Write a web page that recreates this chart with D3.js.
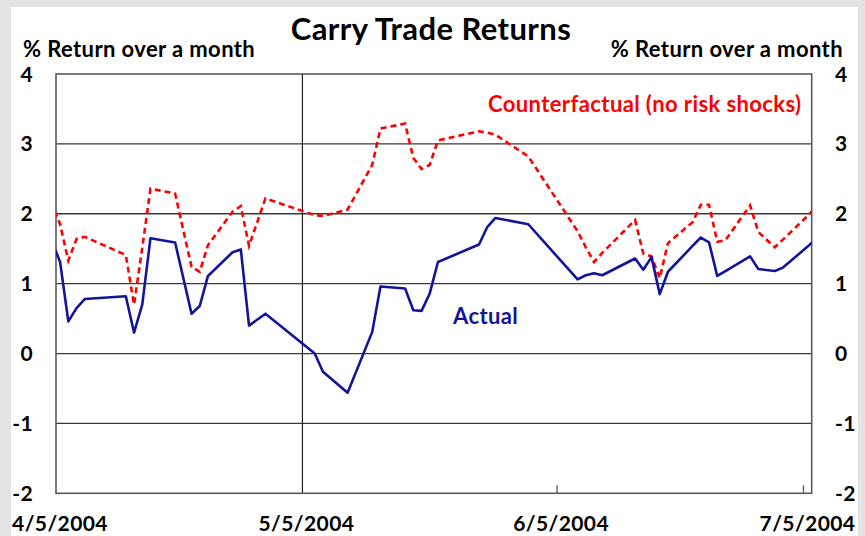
<!DOCTYPE html>
<html>
<head>
<meta charset="utf-8">
<script src="https://cdn.jsdelivr.net/npm/d3@7"></script>
<style>
  body { margin: 0; background: #e3e3e3; }
  svg text { font-family: Lato, "Open Sans", sans-serif; font-weight: bold; letter-spacing: 0.4px; }
</style>
</head>
<body>
<div id="chart"></div>
<script>
// trading days (first and last points run past the plot edge and get clipped)
const dates = ["2004-04-02","2004-04-05","2004-04-06","2004-04-07","2004-04-08","2004-04-13","2004-04-14",
  "2004-04-15","2004-04-16","2004-04-19","2004-04-21","2004-04-22","2004-04-23","2004-04-26","2004-04-27",
  "2004-04-28","2004-04-30","2004-05-06","2004-05-07","2004-05-10","2004-05-13","2004-05-14","2004-05-17",
  "2004-05-18","2004-05-19","2004-05-20","2004-05-21","2004-05-26","2004-05-27","2004-05-28","2004-06-01",
  "2004-06-07","2004-06-08","2004-06-09","2004-06-10","2004-06-14","2004-06-15","2004-06-16","2004-06-17",
  "2004-06-18","2004-06-21","2004-06-22","2004-06-23","2004-06-24","2004-06-25","2004-06-28","2004-06-29",
  "2004-07-01","2004-07-02","2004-07-05","2004-07-06"];

const actual = [2.2, 1.31, 0.46, 0.65, 0.78, 0.82, 0.30,
  0.70, 1.65, 1.59, 0.57, 0.68, 1.11, 1.45, 1.49,
  0.40, 0.57, 0.00, -0.26, -0.56, 0.31, 0.96, 0.93,
  0.62, 0.61, 0.86, 1.31, 1.56, 1.81, 1.94, 1.85,
  1.06, 1.12, 1.15, 1.12, 1.36, 1.20, 1.38, 0.85,
  1.17, 1.54, 1.66, 1.59, 1.11, 1.18, 1.39, 1.21,
  1.18, 1.23, 1.53, 1.64];

const counterfactual = [2.7, 1.85, 1.33, 1.64, 1.67, 1.41, 0.70,
  1.51, 2.36, 2.29, 1.24, 1.17, 1.55, 2.03, 2.11,
  1.54, 2.22, 1.98, 1.97, 2.06, 2.70, 3.22, 3.29,
  2.80, 2.64, 2.70, 3.05, 3.18, 3.16, 3.13, 2.82,
  1.75, 1.52, 1.31, 1.44, 1.91, 1.43, 1.39, 1.08,
  1.58, 1.88, 2.13, 2.13, 1.60, 1.62, 2.12, 1.74,
  1.52, 1.63, 1.97, 2.09];

const yTicks = [-2, -1, 0, 1, 2, 3, 4];
const xTicks = ["2004-04-05", "2004-05-05", "2004-06-05", "2004-07-05"];

const width = 865, height = 536;
const margin = {top: 74, right: 53.3, bottom: 42.7, left: 56};

const parse = d3.timeParse("%Y-%m-%d");
const fmt = d3.timeFormat("%-m/%-d/%Y");

const svg = d3.select("#chart")
  .append("svg")
  .attr("width", width)
  .attr("height", height);

// white panel over the grey page
svg.append("rect")
  .attr("x", 11).attr("y", 7)
  .attr("width", 847).attr("height", height - 7)
  .attr("fill", "#fff");

const x = d3.scaleTime()
  .domain([parse("2004-04-05"), parse("2004-07-06")])
  .range([margin.left, width - margin.right]);

const y = d3.scaleLinear()
  .domain([-2, 4])
  .range([height - margin.bottom, margin.top]);

// points sit in the middle of their day
const pts = dates.map((d, i) => ({
  date: d3.timeHour.offset(parse(d), 12),
  a: actual[i],
  c: counterfactual[i]
}));

svg.append("clipPath").attr("id", "clip")
  .append("rect")
  .attr("x", margin.left).attr("y", margin.top)
  .attr("width", x.range()[1] - margin.left)
  .attr("height", y.range()[0] - margin.top);

// horizontal gridlines
svg.append("g")
  .selectAll("line")
  .data(yTicks.filter(v => v > -2 && v < 4))
  .join("line")
  .attr("x1", margin.left).attr("x2", x.range()[1])
  .attr("y1", d => y(d)).attr("y2", d => y(d))
  .attr("stroke", "#3a3a3a")
  .attr("stroke-width", 1.3);

// the one vertical line at 5/5
svg.append("line")
  .attr("x1", x(parse("2004-05-05"))).attr("x2", x(parse("2004-05-05")))
  .attr("y1", margin.top).attr("y2", y.range()[0])
  .attr("stroke", "#222")
  .attr("stroke-width", 1.2);

// inner ticks on bottom
svg.append("g")
  .selectAll("line")
  .data(xTicks.slice(2))
  .join("line")
  .attr("x1", d => x(parse(d))).attr("x2", d => x(parse(d)))
  .attr("y1", y.range()[0]).attr("y2", y.range()[0] - 8)
  .attr("stroke", "#555")
  .attr("stroke-width", 1.3);

// plot border
svg.append("rect")
  .attr("x", margin.left).attr("y", margin.top)
  .attr("width", x.range()[1] - margin.left)
  .attr("height", y.range()[0] - margin.top)
  .attr("fill", "none")
  .attr("stroke", "#5a5a5a")
  .attr("stroke-width", 1.6);

const lineA = d3.line().x(d => x(d.date)).y(d => y(d.a));
const lineC = d3.line().x(d => x(d.date)).y(d => y(d.c));

const plot = svg.append("g").attr("clip-path", "url(#clip)");

plot.append("path")
  .datum(pts)
  .attr("d", lineC)
  .attr("fill", "none")
  .attr("stroke", "#ff0000")
  .attr("stroke-width", 2.6)
  .attr("stroke-dasharray", "6,4");

plot.append("path")
  .datum(pts)
  .attr("d", lineA)
  .attr("fill", "none")
  .attr("stroke", "#14149a")
  .attr("stroke-width", 2.6)
  .attr("stroke-linejoin", "round");

// y labels, left and right
svg.append("g")
  .selectAll("text")
  .data(yTicks)
  .join("text")
  .attr("x", 33)
  .attr("y", d => y(d))
  .attr("dy", "0.36em")
  .attr("text-anchor", "end")
  .attr("font-size", 21)
  .text(d => d);

svg.append("g")
  .selectAll("text")
  .data(yTicks)
  .join("text")
  .attr("x", 835)
  .attr("y", d => y(d))
  .attr("dy", "0.36em")
  .attr("text-anchor", "start")
  .attr("font-size", 21)
  .text(d => d);

// x labels
svg.append("g")
  .selectAll("text")
  .data(xTicks)
  .join("text")
  .attr("x", d => x(parse(d)) + 4)
  .attr("y", 531)
  .attr("text-anchor", "middle")
  .attr("font-size", 21)
  .text(d => fmt(parse(d)));

// titles
svg.append("text")
  .attr("x", 431).attr("y", 40)
  .attr("text-anchor", "middle")
  .attr("font-size", 31)
  .text("Carry Trade Returns");

svg.append("text")
  .attr("x", 23).attr("y", 57)
  .attr("font-size", 22)
  .text("% Return over a month");

svg.append("text")
  .attr("x", 843).attr("y", 57)
  .attr("text-anchor", "end")
  .attr("font-size", 22)
  .text("% Return over a month");

// series labels
svg.append("text")
  .attr("x", 488).attr("y", 112)
  .attr("fill", "#ff0000")
  .attr("font-size", 22)
  .text("Counterfactual (no risk shocks)");

svg.append("text")
  .attr("x", 453).attr("y", 324)
  .attr("fill", "#14149a")
  .attr("font-size", 22)
  .text("Actual");
</script>
</body>
</html>
